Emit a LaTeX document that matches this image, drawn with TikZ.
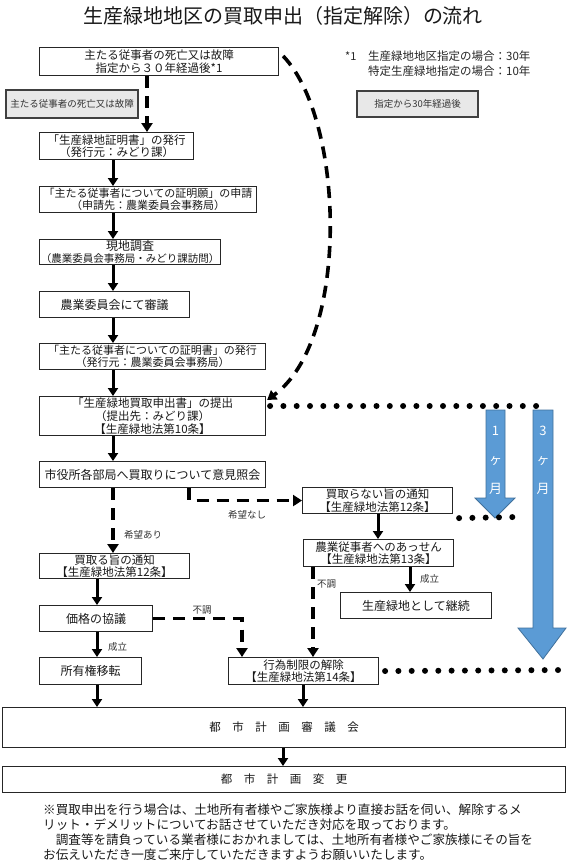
\documentclass[tikz,border=0pt]{standalone}
\usepackage{fontspec}
\setmainfont{Noto Sans CJK JP}
\usetikzlibrary{arrows.meta,calc}
\definecolor{arrowblue}{HTML}{5B9BD5}
\definecolor{arrowedge}{HTML}{41719C}
\begin{document}
\begin{tikzpicture}[x=1pt,y=-1pt,
  box/.style={draw=black!85,line width=1.1pt,inner sep=0pt,anchor=north west,align=center,font=\fontsize{11.5}{12.5}\selectfont,text=black!90},
  gbox/.style={draw=black!75,line width=2.2pt,fill=black!9,inner sep=0pt,anchor=north west,align=center,font=\fontsize{9.5}{11}\selectfont,text=black!80},
  lab/.style={font=\fontsize{9.5}{11}\selectfont,text=black!80,inner sep=0pt},
  sarr/.style={line width=3pt,-{Triangle[width=10pt,length=8pt]}},
  darr/.style={line width=3.6pt,dash pattern=on 12pt off 8pt,-{Triangle[width=11pt,length=9pt]}},
  dotl/.style={line width=6pt,line cap=round,dash pattern=on 0pt off 13.3pt},
  barr/.style={fill=arrowblue,draw=arrowedge,line width=0.8pt},
  btxt/.style={text=white,font=\fontsize{13}{14}\selectfont,inner sep=0pt}]
\fill[white] (0,0) rectangle (567,868);
\useasboundingbox (0,0) rectangle (567,868);

\node[font=\fontsize{20}{22}\selectfont,text=black!90] (title) at (283,16) {生産緑地地区の買取申出（指定解除）の流れ};

% column coordinates
\coordinate (cA) at (147,0);
\coordinate (cB) at (113,0);
\coordinate (cC) at (97,0);
\coordinate (cD) at (189,0);
\coordinate (cE) at (303,0);
\coordinate (cF) at (283,0);
\coordinate (cG) at (378,0);
\coordinate (cH) at (410,0);
\coordinate (cI) at (313,0);
\coordinate (cJ) at (242,0);

% boxes
\node[box,minimum width=239pt,minimum height=28pt] (b1) at (39,47) {主たる従事者の死亡又は故障\\指定から３０年経過後*1};
\node[box,minimum width=154pt,minimum height=27pt] (b2) at (39,132) {「生産緑地証明書」の発行\\（発行元：みどり課）};
\node[box,minimum width=217pt,minimum height=26pt,font=\fontsize{11}{12.5}\selectfont] (b3) at (39,186) {「主たる従事者についての証明願」の申請\\（申請先：農業委員会事務局）};
\node[box,minimum width=181pt,minimum height=25pt] (b4) at (39,239) {{\fontsize{12}{12.5}\selectfont 現地調査}\\{\fontsize{10.5}{12}\selectfont（農業委員会事務局・みどり課訪問）}};
\node[box,minimum width=150pt,minimum height=26pt,font=\fontsize{12}{13}\selectfont] (b5) at (39,291) {農業委員会にて審議};
\node[box,minimum width=226pt,minimum height=26pt,font=\fontsize{11}{12.5}\selectfont] (b6) at (39,343) {「主たる従事者についての証明書」の発行\\（発行元：農業委員会事務局）};
\node[box,minimum width=226pt,minimum height=39pt,font=\fontsize{11.5}{12.8}\selectfont] (b7) at (39,396) {「生産緑地買取申出書」の提出\\（提出先：みどり課）\\【生産緑地法第10条】};
\node[box,minimum width=226pt,minimum height=26pt,font=\fontsize{12}{13}\selectfont] (b8) at (39,461) {市役所各部局へ買取りについて意見照会};
\node[box,minimum width=150pt,minimum height=25pt] (b9) at (39,553) {買取る旨の通知\\【生産緑地法第12条】};
\node[box,minimum width=113pt,minimum height=26pt,font=\fontsize{12}{13}\selectfont] (b10) at (39,605) {価格の協議};
\node[box,minimum width=102pt,minimum height=27pt,font=\fontsize{12}{13}\selectfont] (b11) at (39,657) {所有権移転};
\node[box,minimum width=150pt,minimum height=27pt] (b12) at (228,657) {行為制限の解除\\【生産緑地法第14条】};
\node[box,minimum width=150pt,minimum height=26pt] (b13) at (302,487) {買取らない旨の通知\\【生産緑地法第12条】};
\node[box,minimum width=150pt,minimum height=27pt] (b14) at (303,539) {農業従事者へのあっせん\\【生産緑地法第13条】};
\node[box,minimum width=151pt,minimum height=26pt,font=\fontsize{12}{13}\selectfont] (b15) at (340,592) {生産緑地として継続};
\node[box,minimum width=563pt,minimum height=40pt] (b16) at (2,707) {都　市　計　画　審　議　会};
\node[box,minimum width=563pt,minimum height=26pt] (b17) at (2,766) {都　市　計　画　変　更};

\node[gbox,minimum width=132pt,minimum height=28pt] (g1) at (5,89) {主たる従事者の死亡又は故障};
\node[gbox,minimum width=121pt,minimum height=26pt] (g2) at (356,90) {指定から30年経過後};

% note
\node[anchor=west,inner sep=0pt,font=\fontsize{11}{12}\selectfont,text=black!85] (n0) at (345,56) {*1};
\node[anchor=west,inner sep=0pt,font=\fontsize{11.5}{12}\selectfont,text=black!85] (n1) at (368,56) {生産緑地地区指定の場合：30年};
\node[anchor=west,inner sep=0pt,font=\fontsize{11.5}{12}\selectfont,text=black!85] (n2) at (368,71) {特定生産緑地指定の場合：10年};

% connectors
\draw[darr] (b1.south -| cA) -- (b2.north -| cA);
\foreach \a/\b in {b2/b3,b3/b4,b4/b5,b5/b6,b6/b7,b7/b8}
  \draw[sarr] (\a.south -| cB) -- (\b.north -| cB);
\draw[darr] ($(b1.north east)+(4,9)$) .. controls (345,120) and (350,340) .. ($(b7.north east)+(1,4)$);
\draw[darr] (b8.south -| cB) -- (b9.north -| cB);
\node[lab,anchor=west] (l1) at (124,535) {希望あり};
\draw[darr] (b8.south -| cD) -- (cD |- b13.west) -- (b13.west);
\node[lab] (l2) at (247,515) {希望なし};
\draw[sarr] (b9.south -| cC) -- (b10.north -| cC);
\draw[sarr] (b10.south -| cC) -- (b11.north -| cC);
\node[lab,anchor=west] (l3) at (108,647) {成立};
\draw[sarr] (b11.south -| cC) -- (b16.north -| cC);
\draw[darr] (b10.east) -- (cJ |- b10.east) -- (b12.north -| cJ);
\node[lab] (l4) at (202,610) {不調};
\draw[sarr] (b13.south -| cG) -- (b14.north -| cG);
\draw[sarr] (b14.south -| cH) -- (b15.north -| cH);
\node[lab,anchor=west] (l5) at (420,579) {成立};
\draw[darr] (b14.south -| cI) -- (b12.north -| cI);
\node[lab,anchor=west] (l6) at (317,584) {不調};
\draw[sarr] (b12.south -| cE) -- (b16.north -| cE);
\draw[sarr] (b16.south -| cF) -- (b17.north -| cF);

% blue period arrows
\draw[barr] (486,410) -- (505,410) -- (505,498) -- (515,498) -- (495,518) -- (475,498) -- (486,498) -- cycle;
\draw[barr] (533,410) -- (553,410) -- (553,628) -- (566,628) -- (543,659) -- (518,628) -- (533,628) -- cycle;
\node[btxt] (t1a) at (495.5,431) {1};
\node[btxt] (t1b) at (495.5,461) {ヶ};
\node[btxt] (t1c) at (495.5,489) {月};
\node[btxt] (t3a) at (543,431) {3};
\node[btxt] (t3b) at (543,461) {ヶ};
\node[btxt] (t3c) at (543,489) {月};

% dotted lines
\coordinate (e1) at (549,406);
\coordinate (e2) at (516,517);
\coordinate (e3) at (566,670);
\draw[dotl] ($(b7.north east)+(4,10)$) -- (e1);
\draw[dotl] ($(b13.south east)+(6,4)$) -- (e2);
\draw[dotl] ($(b12.east)+(6,0)$) -- (e3);

% footnote
\node[anchor=north west,align=left,inner sep=0pt,font=\fontsize{12.6}{15}\selectfont,text=black!90] (foot) at (43,804) {※買取申出を行う場合は、土地所有者様やご家族様より直接お話を伺い、解除するメ\\リット・デメリットについてお話させていただき対応を取っております。\\　調査等を請負っている業者様におかれましては、土地所有者様やご家族様にその旨を\\お伝えいただき一度ご来庁していただきますようお願いいたします。};
\end{tikzpicture}
\end{document}
